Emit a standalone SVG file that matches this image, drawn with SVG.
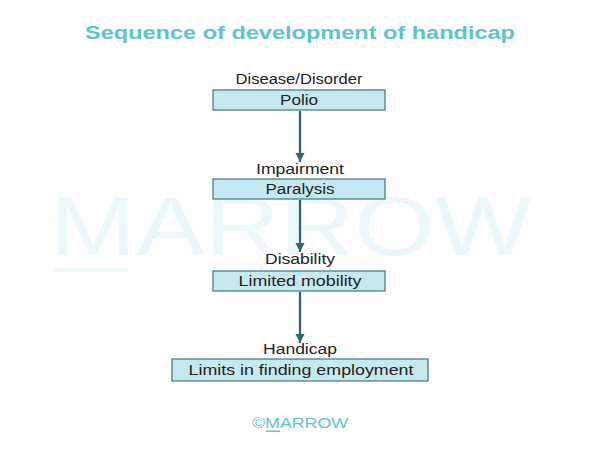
<svg xmlns="http://www.w3.org/2000/svg" width="600" height="451" viewBox="0 0 600 451">
<defs>
<style>
.title{font-family:"Liberation Sans",Arial,sans-serif;font-weight:bold;font-size:17.5px;fill:#5ec3d3}
.box{fill:#c5e9ef;stroke:#4f7f88;stroke-width:1.3}
.btxt{font-family:"Liberation Sans",Arial,sans-serif;font-size:14px;fill:#222;text-anchor:middle}
.wm{font-family:"Liberation Sans",Arial,sans-serif;font-size:84px;fill:#ecf8fa}
.edge{stroke:#2f6670;stroke-width:2.3;fill:none}
</style>
<marker id="ah" viewBox="0 0 10 10" refX="10" refY="5" markerWidth="4" markerHeight="4" markerUnits="strokeWidth" orient="auto">
<path d="M0,0 L10,5 L0,10 z" fill="#2f6670"/>
</marker>
</defs>
<rect width="600" height="451" fill="#ffffff"/>
<g id="watermark">
<text class="wm" x="50" y="255" textLength="482" lengthAdjust="spacingAndGlyphs">MARROW</text>
<rect x="55" y="268" width="73" height="4" fill="#ecf8fa"/>
</g>
<text class="title" x="300" y="39" text-anchor="middle" textLength="430" lengthAdjust="spacingAndGlyphs">Sequence of development of handicap</text>
<g id="connectors">
<line class="edge" x1="300" y1="111" x2="300" y2="162" marker-end="url(#ah)"/>
<line class="edge" x1="300" y1="200" x2="300" y2="252" marker-end="url(#ah)"/>
<line class="edge" x1="300" y1="292" x2="300" y2="343" marker-end="url(#ah)"/>
</g>
<g id="node-polio">
<text class="btxt" x="299" y="83.5" textLength="127" lengthAdjust="spacingAndGlyphs">Disease/Disorder</text>
<rect class="box" x="213" y="90" width="172" height="20"/>
<text class="btxt" x="299" y="104.5" textLength="38" lengthAdjust="spacingAndGlyphs">Polio</text>
</g>
<g id="node-paralysis">
<text class="btxt" x="300" y="174" textLength="88" lengthAdjust="spacingAndGlyphs">Impairment</text>
<rect class="box" x="213" y="179" width="172" height="20"/>
<text class="btxt" x="300" y="193.5" textLength="69" lengthAdjust="spacingAndGlyphs">Paralysis</text>
</g>
<g id="node-limited">
<text class="btxt" x="300" y="264" textLength="70" lengthAdjust="spacingAndGlyphs">Disability</text>
<rect class="box" x="213" y="271" width="172" height="20"/>
<text class="btxt" x="300" y="286" textLength="123" lengthAdjust="spacingAndGlyphs">Limited mobility</text>
</g>
<g id="node-handicap">
<text class="btxt" x="300" y="354" textLength="74" lengthAdjust="spacingAndGlyphs">Handicap</text>
<rect class="box" x="172" y="359" width="256" height="22"/>
<text class="btxt" x="301" y="374.5" textLength="225" lengthAdjust="spacingAndGlyphs">Limits in finding employment</text>
</g>
<g id="copyright">
<text x="300" y="428" text-anchor="middle" textLength="96" lengthAdjust="spacingAndGlyphs" style="font-family:'Liberation Sans',Arial,sans-serif;font-size:15px;fill:#5ec3d3">©MARROW</text>
<rect x="266" y="430.5" width="14" height="1.5" fill="#5ec3d3"/>
</g>
</svg>
